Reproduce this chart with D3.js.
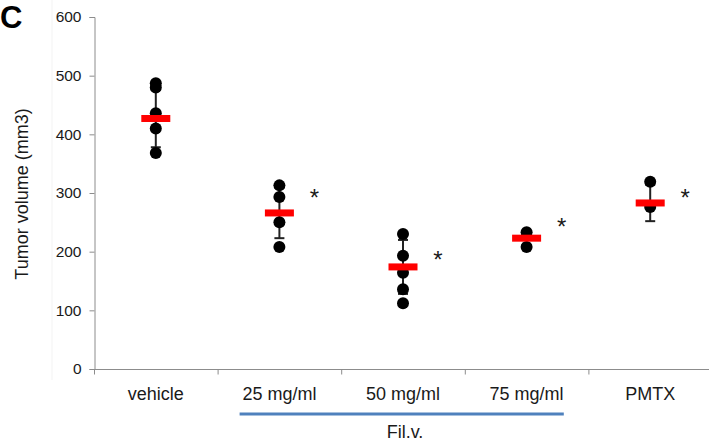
<!DOCTYPE html>
<html>
<head>
<meta charset="utf-8">
<script src="https://cdn.jsdelivr.net/npm/d3@7"></script>
<style>
  body { margin: 0; background: #fff; }
  svg { display: block; font-family: "Liberation Sans", Arial, sans-serif; }
</style>
</head>
<body>
<svg id="chart" width="709" height="444"></svg>
<script>
const categories = ['vehicle', '25 mg/ml', '50 mg/ml', '75 mg/ml', 'PMTX'];
const points = [
  [487, 480, 436, 410, 368],
  [313, 293, 250, 208],
  [230, 193, 164, 136, 112],
  [233, 208],
  [319, 276]
];
const means = [427, 266, 174, 223, 283];
const sds = [49, 43, 46, 12, 31];
const stars = [null, 300, 195, 250, 300];
const yTicks = [0, 100, 200, 300, 400, 500, 600];

const svg = d3.select('#chart');

const x = d3.scaleBand().domain(categories).range([94, 712]);
const y = d3.scaleLinear().domain([0, 600]).range([369, 17]);
const cx = d => x(d) + x.bandwidth() / 2;

// faint guide line seen in the source
svg.append('line')
  .attr('x1', 52).attr('x2', 52).attr('y1', 0).attr('y2', 380)
  .attr('stroke', '#f3f3f3').attr('stroke-width', 1);

// y axis
const yAxis = svg.append('g')
  .attr('transform', 'translate(94.5,0)')
  .call(d3.axisLeft(y).tickValues(yTicks).tickSize(5).tickPadding(8));
yAxis.select('.domain').attr('stroke', '#8c8c8c');
yAxis.selectAll('.tick line').attr('stroke', '#8c8c8c');
yAxis.selectAll('.tick text')
  .attr('fill', '#1a1a1a')
  .style('font-size', '15.5px')
  .style('font-family', '"Liberation Sans", Arial, sans-serif');

// x axis
const xAxis = svg.append('g').attr('transform', 'translate(0,369.5)');
xAxis.append('line')
  .attr('x1', 94).attr('x2', 712)
  .attr('stroke', '#8c8c8c');
xAxis.selectAll('.xt')
  .data(categories)
  .enter().append('line')
  .attr('x1', d => x(d) + 0.5).attr('x2', d => x(d) + 0.5)
  .attr('y1', 0).attr('y2', 5)
  .attr('stroke', '#8c8c8c');
xAxis.append('line')
  .attr('x1', 711.5).attr('x2', 711.5).attr('y1', 0).attr('y2', 5)
  .attr('stroke', '#8c8c8c');

svg.selectAll('.xlab')
  .data(categories)
  .enter().append('text')
  .attr('x', d => cx(d))
  .attr('y', 400)
  .attr('text-anchor', 'middle')
  .attr('fill', '#1a1a1a')
  .style('font-size', '18px')
  .text(d => d);

// y label
svg.append('text')
  .attr('transform', 'translate(28,194) rotate(-90)')
  .attr('text-anchor', 'middle')
  .attr('fill', '#1a1a1a')
  .style('font-size', '18px')
  .text('Tumor volume (mm3)');

// panel letter
svg.append('text')
  .attr('x', 0).attr('y', 28)
  .attr('fill', '#000')
  .style('font-size', '31px')
  .style('font-weight', 'bold')
  .text('C');

// Fil.v. bracket
svg.append('line')
  .attr('x1', x(categories[1]) + 22).attr('x2', x(categories[3]) + 99)
  .attr('y1', 414).attr('y2', 414)
  .attr('stroke', '#4f81bd').attr('stroke-width', 3);
svg.append('text')
  .attr('x', 405).attr('y', 438)
  .attr('text-anchor', 'middle')
  .attr('fill', '#1a1a1a')
  .style('font-size', '18px')
  .text('Fil.v.');

const groups = svg.selectAll('.grp')
  .data(categories)
  .enter().append('g');

// error bars
groups.append('line')
  .attr('x1', d => cx(d)).attr('x2', d => cx(d))
  .attr('y1', (d, i) => y(means[i] + sds[i]))
  .attr('y2', (d, i) => y(means[i] - sds[i]))
  .attr('stroke', '#222').attr('stroke-width', 2);
[1, -1].forEach(s => {
  groups.append('line')
    .attr('x1', d => cx(d) - 5).attr('x2', d => cx(d) + 5)
    .attr('y1', (d, i) => y(means[i] + s * sds[i]))
    .attr('y2', (d, i) => y(means[i] + s * sds[i]))
    .attr('stroke', '#222').attr('stroke-width', 2);
});

// dots
groups.each(function (d, i) {
  d3.select(this).selectAll('circle')
    .data(points[i])
    .enter().append('circle')
    .attr('cx', cx(d))
    .attr('cy', v => y(v))
    .attr('r', 6)
    .attr('fill', '#000');
});

// mean bars
groups.append('rect')
  .attr('x', d => cx(d) - 14.5)
  .attr('y', (d, i) => y(means[i]) - 3.5)
  .attr('width', 29)
  .attr('height', 7)
  .attr('fill', '#ff0000');

// significance stars
svg.selectAll('.star')
  .data(categories.filter((d, i) => stars[i] !== null))
  .enter().append('text')
  .attr('x', d => cx(d) + 35)
  .attr('y', d => y(stars[categories.indexOf(d)]) + 13)
  .attr('text-anchor', 'middle')
  .attr('fill', '#1a1a1a')
  .style('font-size', '24px')
  .text('*');
</script>
</body>
</html>
